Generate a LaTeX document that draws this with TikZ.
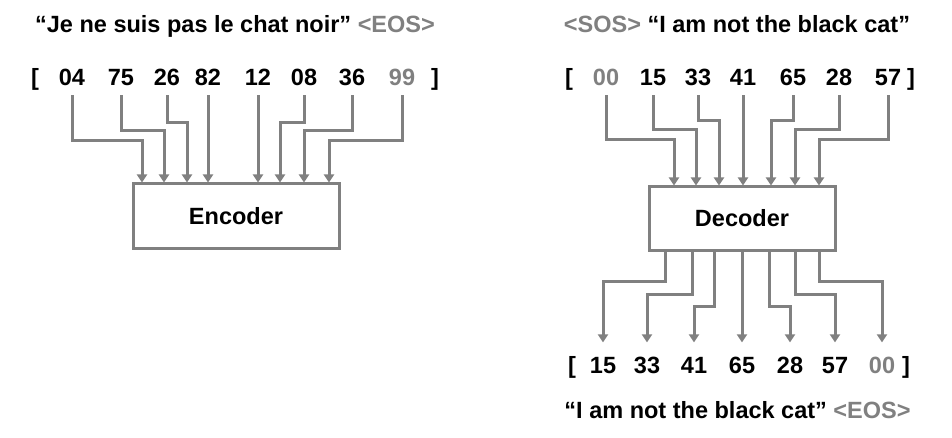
\documentclass[tikz,border=0pt]{standalone}
\usepackage{fontspec}
\setmainfont{Liberation Sans}
\usetikzlibrary{arrows.meta}
\definecolor{tokgray}{RGB}{128,128,128}
\tikzset{
  tok/.style={font=\fontsize{23.5}{28}\selectfont\bfseries, inner xsep=0pt, inner ysep=9pt, text height=16.8pt, text depth=0pt},
  outtok/.style={tok, inner ysep=14pt},
  title/.style={tok, inner ysep=0pt},
  link/.style={draw=tokgray, line width=3pt, -{Triangle[length=8pt,width=10pt]}},
  coder/.style={draw=tokgray, line width=3pt, font=\fontsize{23.5}{28}\selectfont\bfseries, minimum width=206pt, minimum height=64pt, inner sep=0pt}
}
\begin{document}
\begin{tikzpicture}[x=1pt, y=-1pt]
            \useasboundingbox (0,0) rectangle (952,438);

            \node[title] (srctxt) at (235,24) {“Je ne suis pas le chat noir” \textcolor{tokgray}{<EOS>}};
            \node[title] (tgttxt) at (737,24) {\textcolor{tokgray}{<SOS>} “I am not the black cat”};
            \node[title] (outtxt) at (737.5,410) {“I am not the black cat” \textcolor{tokgray}{<EOS>}};

            \node[tok] (srcl) at (35,77.5) {[};
            \node[tok] (src1) at (72,77.5) {04};
            \node[tok] (src2) at (121,77.5) {75};
            \node[tok] (src3) at (167,77.5) {26};
            \node[tok] (src4) at (208,77.5) {82};
            \node[tok] (src5) at (258,77.5) {12};
            \node[tok] (src6) at (304,77.5) {08};
            \node[tok] (src7) at (352,77.5) {36};
            \node[tok, text=tokgray] (src8) at (402,77.5) {99};
            \node[tok] (srcr) at (435,77.5) {]};

            \node[tok] (tgtl) at (569,77.5) {[};
            \node[tok, text=tokgray] (tgt1) at (606,77.5) {00};
            \node[tok] (tgt2) at (653,77.5) {15};
            \node[tok] (tgt3) at (698,77.5) {33};
            \node[tok] (tgt4) at (743,77.5) {41};
            \node[tok] (tgt5) at (793,77.5) {65};
            \node[tok] (tgt6) at (839,77.5) {28};
            \node[tok] (tgt7) at (888,77.5) {57};
            \node[tok] (tgtr) at (911,77.5) {]};

            \node[coder] (enc) at (236,216) {Encoder};
            \node[coder, minimum width=186pt, minimum height=63pt] (dec) at (742,218.5) {Decoder};

            \node[outtok] (outl) at (572,365) {[};
            \node[outtok] (out1) at (603,365) {15};
            \node[outtok] (out2) at (647,365) {33};
            \node[outtok] (out3) at (694,365) {41};
            \node[outtok] (out4) at (742,365) {65};
            \node[outtok] (out5) at (790,365) {28};
            \node[outtok] (out6) at (835,365) {57};
            \node[outtok, text=tokgray] (out7) at (882,365) {00};
            \node[outtok] (outr) at (906,365) {]};

            \draw[link] (src1.south) -- ++(0,45) -| ([xshift=-94pt]enc.north);
            \draw[link] (src2.south) -- ++(0,35) -| ([xshift=-72pt]enc.north);
            \draw[link] (src3.south) -- ++(0,27) -| ([xshift=-49pt]enc.north);
            \draw[link] (src4.south) -- (src4.south |- enc.north);
            \draw[link] (src5.south) -- (src5.south |- enc.north);
            \draw[link] (src6.south) -- ++(0,27) -| ([xshift=44pt]enc.north);
            \draw[link] (src7.south) -- ++(0,35) -| ([xshift=68pt]enc.north);
            \draw[link] (src8.south) -- ++(0,45) -| ([xshift=93pt]enc.north);

            \draw[link] (tgt1.south) -- ++(0,44) -| ([xshift=-68pt]dec.north);
            \draw[link] (tgt2.south) -- ++(0,34) -| ([xshift=-46pt]dec.north);
            \draw[link] (tgt3.south) -- ++(0,25) -| ([xshift=-23pt]dec.north);
            \draw[link] (tgt4.south) -- (tgt4.south |- dec.north);
            \draw[link] (tgt5.south) -- ++(0,25) -| ([xshift=29pt]dec.north);
            \draw[link] (tgt6.south) -- ++(0,34) -| ([xshift=53pt]dec.north);
            \draw[link] (tgt7.south) -- ++(0,44) -| ([xshift=77pt]dec.north);

            \draw[link] ([xshift=-77pt]dec.south) -- ++(0,29.5) -| (out1.north);
            \draw[link] ([xshift=-50pt]dec.south) -- ++(0,42.5) -| (out2.north);
            \draw[link] ([xshift=-28pt]dec.south) -- ++(0,54.5) -| (out3.north);
            \draw[link] (out4.north |- dec.south) -- (out4.north);
            \draw[link] ([xshift=27pt]dec.south) -- ++(0,54.5) -| (out5.north);
            \draw[link] ([xshift=53pt]dec.south) -- ++(0,42.5) -| (out6.north);
            \draw[link] ([xshift=77pt]dec.south) -- ++(0,29.5) -| (out7.north);

        \end{tikzpicture}
\end{document}
